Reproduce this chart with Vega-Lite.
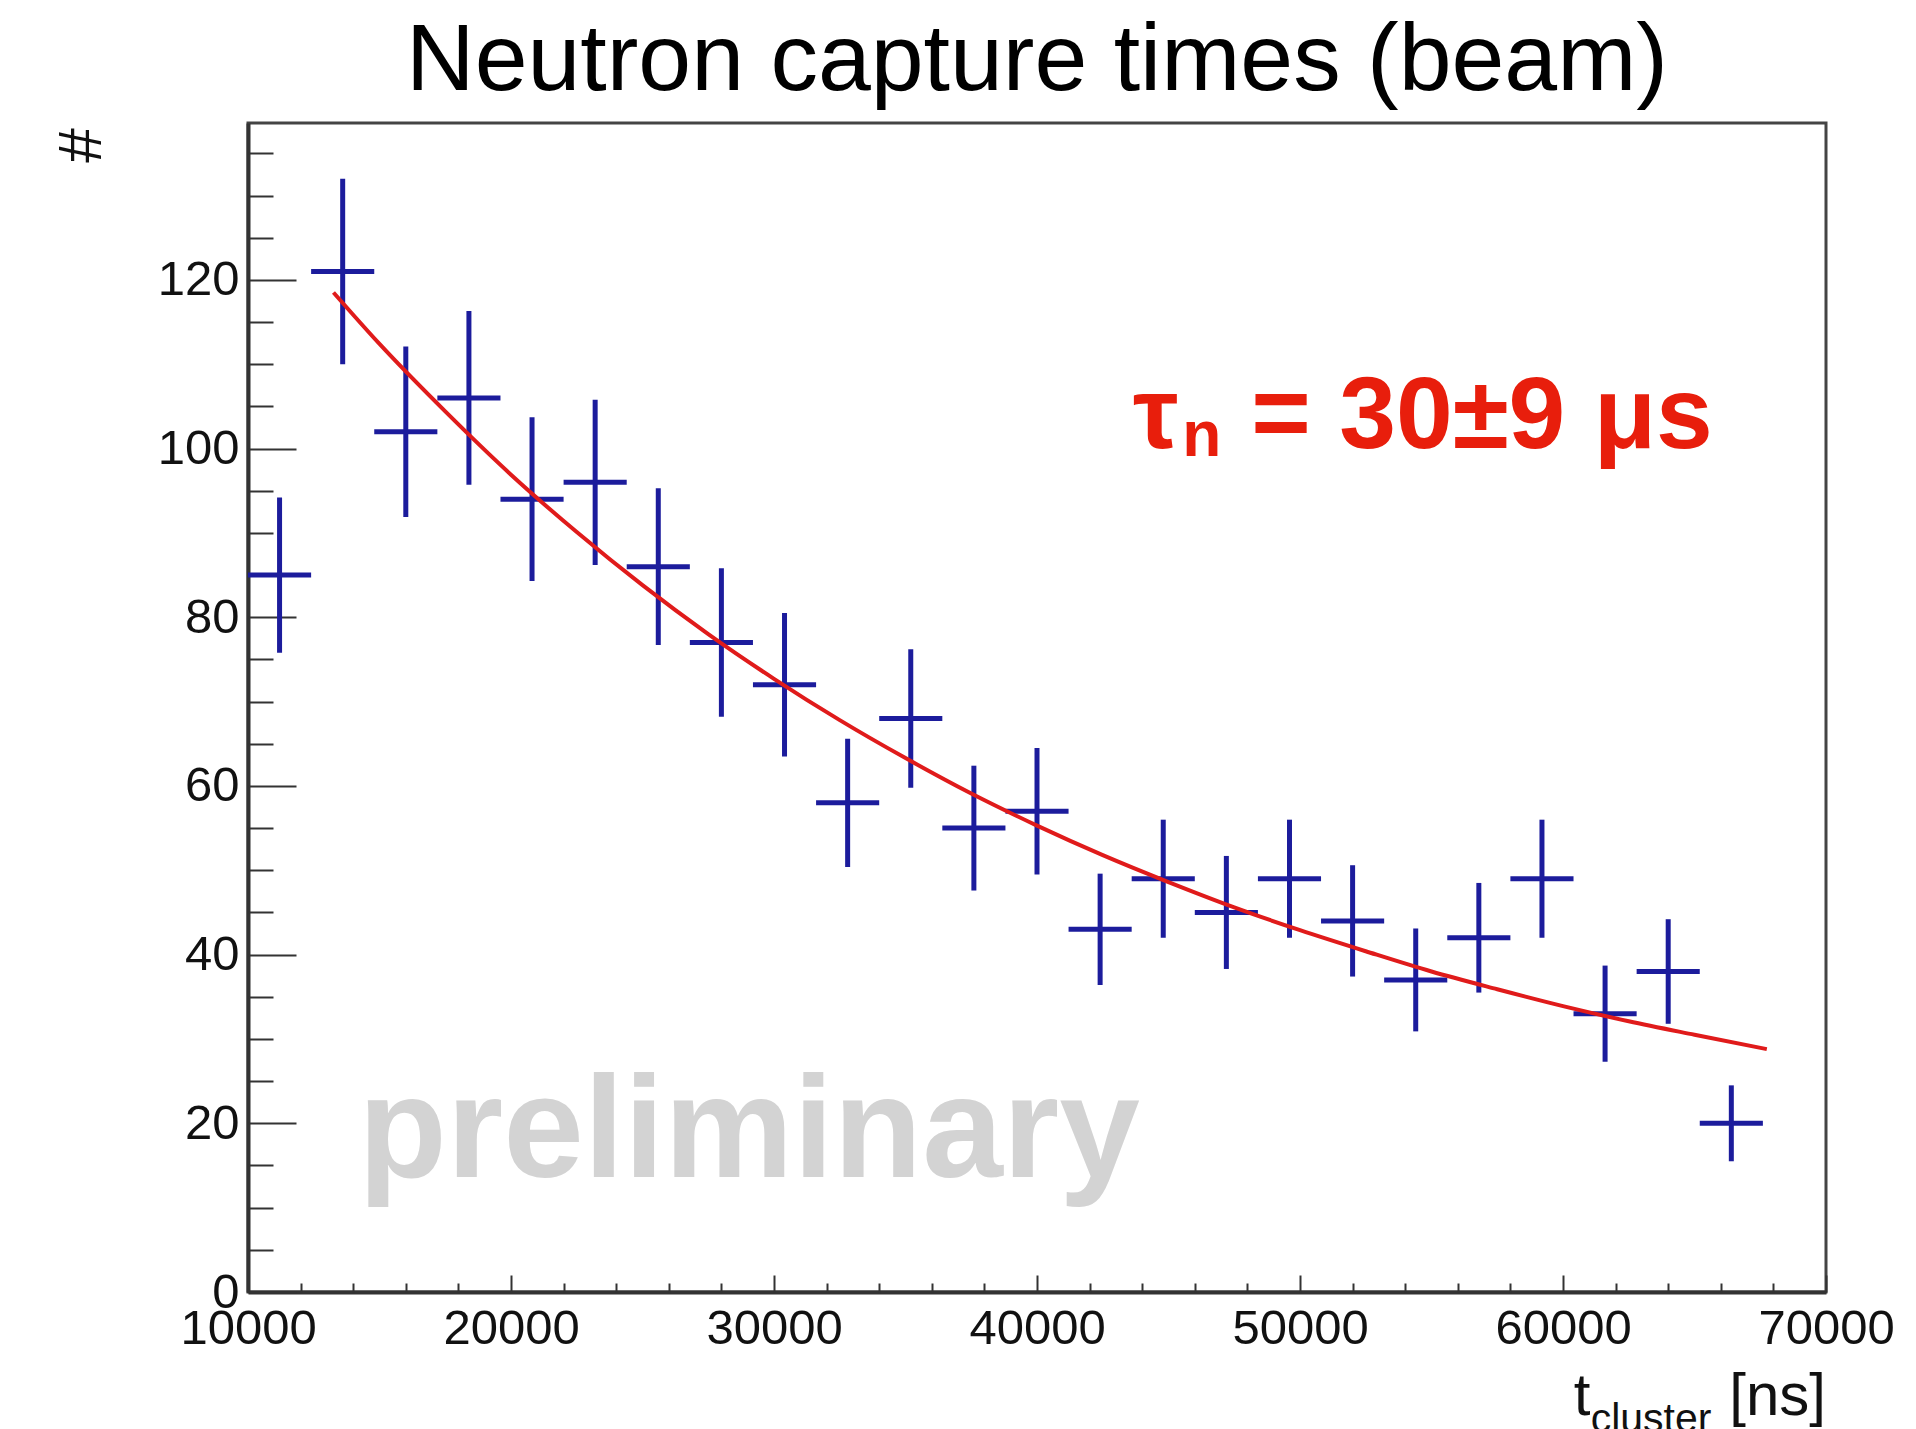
{
  "$schema": "https://vega.github.io/schema/vega-lite/v6.json",
  "width": 1578,
  "height": 1169,
  "autosize": {"type": "none"},
  "padding": {"left": 248, "top": 123, "right": 90, "bottom": 137},
  "background": "white",
  "title": {"text": "Neutron capture times (beam)", "fontSize": 95, "font": "Liberation Sans", "fontWeight": "normal", "color": "black", "anchor": "middle", "baseline": "alphabetic", "offset": 31, "dy": 93},
  "config": {
    "view": {"stroke": "#444", "strokeWidth": 3},
    "axis": {"grid": false, "labelFont": "Liberation Sans", "labelFontSize": 49, "labelColor": "#111", "titleFont": "Liberation Sans"}
  },
  "datasets": {
    "hist": [
      {"t": 11200, "tlo": 10000, "thi": 12400, "n": 85, "nlo": 75.8, "nhi": 94.2},
      {"t": 13600, "tlo": 12400, "thi": 14800, "n": 121, "nlo": 110, "nhi": 132},
      {"t": 16000, "tlo": 14800, "thi": 17200, "n": 102, "nlo": 91.9, "nhi": 112.1},
      {"t": 18400, "tlo": 17200, "thi": 19600, "n": 106, "nlo": 95.7, "nhi": 116.3},
      {"t": 20800, "tlo": 19600, "thi": 22000, "n": 94, "nlo": 84.3, "nhi": 103.7},
      {"t": 23200, "tlo": 22000, "thi": 24400, "n": 96, "nlo": 86.2, "nhi": 105.8},
      {"t": 25600, "tlo": 24400, "thi": 26800, "n": 86, "nlo": 76.7, "nhi": 95.3},
      {"t": 28000, "tlo": 26800, "thi": 29200, "n": 77, "nlo": 68.2, "nhi": 85.8},
      {"t": 30400, "tlo": 29200, "thi": 31600, "n": 72, "nlo": 63.5, "nhi": 80.5},
      {"t": 32800, "tlo": 31600, "thi": 34000, "n": 58, "nlo": 50.4, "nhi": 65.6},
      {"t": 35200, "tlo": 34000, "thi": 36400, "n": 68, "nlo": 59.8, "nhi": 76.2},
      {"t": 37600, "tlo": 36400, "thi": 38800, "n": 55, "nlo": 47.6, "nhi": 62.4},
      {"t": 40000, "tlo": 38800, "thi": 41200, "n": 57, "nlo": 49.5, "nhi": 64.5},
      {"t": 42400, "tlo": 41200, "thi": 43600, "n": 43, "nlo": 36.4, "nhi": 49.6},
      {"t": 44800, "tlo": 43600, "thi": 46000, "n": 49, "nlo": 42, "nhi": 56},
      {"t": 47200, "tlo": 46000, "thi": 48400, "n": 45, "nlo": 38.3, "nhi": 51.7},
      {"t": 49600, "tlo": 48400, "thi": 50800, "n": 49, "nlo": 42, "nhi": 56},
      {"t": 52000, "tlo": 50800, "thi": 53200, "n": 44, "nlo": 37.4, "nhi": 50.6},
      {"t": 54400, "tlo": 53200, "thi": 55600, "n": 37, "nlo": 30.9, "nhi": 43.1},
      {"t": 56800, "tlo": 55600, "thi": 58000, "n": 42, "nlo": 35.5, "nhi": 48.5},
      {"t": 59200, "tlo": 58000, "thi": 60400, "n": 49, "nlo": 42, "nhi": 56},
      {"t": 61600, "tlo": 60400, "thi": 62800, "n": 33, "nlo": 27.3, "nhi": 38.7},
      {"t": 64000, "tlo": 62800, "thi": 65200, "n": 38, "nlo": 31.8, "nhi": 44.2},
      {"t": 66400, "tlo": 65200, "thi": 67600, "n": 20, "nlo": 15.5, "nhi": 24.5}
    ],
    "fit": [
      {"t": 13250, "f": 118.5}, {"t": 15000, "f": 112.4}, {"t": 17500, "f": 104.4},
      {"t": 20000, "f": 96.9}, {"t": 22500, "f": 90.1}, {"t": 25000, "f": 83.8},
      {"t": 27500, "f": 78.0}, {"t": 30000, "f": 72.7}, {"t": 32500, "f": 67.8},
      {"t": 35000, "f": 63.3}, {"t": 37500, "f": 59.1}, {"t": 40000, "f": 55.3},
      {"t": 42500, "f": 51.8}, {"t": 45000, "f": 48.6}, {"t": 47500, "f": 45.6},
      {"t": 50000, "f": 42.9}, {"t": 52500, "f": 40.4}, {"t": 55000, "f": 38.0},
      {"t": 57500, "f": 35.9}, {"t": 60000, "f": 33.9}, {"t": 62500, "f": 32.1},
      {"t": 65000, "f": 30.5}, {"t": 67750, "f": 28.8}
    ]
  },
  "layer": [
    {
      "data": {"values": [{"label": "preliminary"}]},
      "mark": {"type": "text", "font": "Liberation Sans", "fontWeight": "bold", "fontSize": 145, "color": "#d3d3d3", "align": "left", "baseline": "alphabetic"},
      "encoding": {
        "x": {"datum": 14188, "type": "quantitative", "scale": {"domain": [10000, 70000], "nice": false, "zero": false}, "axis": null},
        "y": {"datum": 13.6, "type": "quantitative", "scale": {"domain": [0, 138.6], "nice": false}, "axis": null},
        "text": {"field": "label"}
      }
    },
    {
      "data": {"name": "hist"},
      "mark": {"type": "rule", "color": "#1c1c9c", "strokeWidth": 5},
      "encoding": {
        "x": {"field": "t", "type": "quantitative", "scale": {"domain": [10000, 70000], "nice": false, "zero": false},
          "axis": {"orient": "bottom", "title": null, "values": [10000, 20000, 30000, 40000, 50000, 60000, 70000], "format": "d", "ticks": false, "labelPadding": 12, "domainColor": "#333", "domainWidth": 4, "labelFlush": false, "labelOverlap": false}},
        "y": {"field": "nlo", "type": "quantitative", "scale": {"domain": [0, 138.6], "nice": false},
          "axis": {"orient": "left", "title": "#", "values": [0, 20, 40, 60, 80, 100, 120], "ticks": false, "labelPadding": 9, "domainColor": "#333", "domainWidth": 4, "labelFlush": false, "labelOverlap": false,
            "titleFontSize": 62, "titleFontWeight": "normal", "titleColor": "#111", "titleX": -167, "titleY": 22, "titleAngle": -90, "titleAlign": "center", "titleBaseline": "middle"}},
        "y2": {"field": "nhi"}
      }
    },
    {
      "data": {"name": "hist"},
      "mark": {"type": "rule", "color": "#1c1c9c", "strokeWidth": 5},
      "encoding": {
        "x": {"field": "tlo", "type": "quantitative", "scale": {"domain": [10000, 70000], "nice": false, "zero": false},
          "axis": {"orient": "bottom", "title": null, "values": [10000, 20000, 30000, 40000, 50000, 60000, 70000], "labels": false, "domain": false, "tickSize": -17, "tickColor": "#333", "tickWidth": 2}},
        "x2": {"field": "thi"},
        "y": {"field": "n", "type": "quantitative", "scale": {"domain": [0, 138.6], "nice": false},
          "axis": {"orient": "left", "title": null, "values": [0, 20, 40, 60, 80, 100, 120], "labels": false, "domain": false, "tickSize": -48, "tickColor": "#333", "tickWidth": 2}}
      }
    },
    {
      "data": {"name": "fit"},
      "mark": {"type": "line", "color": "#e01b1b", "strokeWidth": 4, "interpolate": "monotone"},
      "encoding": {
        "x": {"field": "t", "type": "quantitative", "scale": {"domain": [10000, 70000], "nice": false, "zero": false},
          "axis": {"orient": "bottom", "title": null, "values": [12000, 14000, 16000, 18000, 22000, 24000, 26000, 28000, 32000, 34000, 36000, 38000, 42000, 44000, 46000, 48000, 52000, 54000, 56000, 58000, 62000, 64000, 66000, 68000], "labels": false, "domain": false, "tickSize": -9, "tickColor": "#333", "tickWidth": 2}},
        "y": {"field": "f", "type": "quantitative", "scale": {"domain": [0, 138.6], "nice": false},
          "axis": {"orient": "left", "title": null, "values": [5, 10, 15, 25, 30, 35, 45, 50, 55, 65, 70, 75, 85, 90, 95, 105, 110, 115, 125, 130, 135], "labels": false, "domain": false, "tickSize": -25, "tickColor": "#333", "tickWidth": 2}}
      }
    },
    {
      "data": {"values": [{"label": "τ"}]},
      "mark": {"type": "text", "font": "Liberation Sans", "fontWeight": "bold", "fontSize": 102, "color": "#e81e0c", "align": "left", "baseline": "alphabetic"},
      "encoding": {
        "x": {"datum": 43654, "type": "quantitative", "axis": null},
        "y": {"datum": 100.1, "type": "quantitative", "axis": null},
        "text": {"field": "label"}
      }
    },
    {
      "data": {"values": [{"label": "n"}]},
      "mark": {"type": "text", "font": "Liberation Sans", "fontWeight": "bold", "fontSize": 64, "color": "#e81e0c", "align": "left", "baseline": "alphabetic"},
      "encoding": {
        "x": {"datum": 45520, "type": "quantitative", "axis": null},
        "y": {"datum": 99.1, "type": "quantitative", "axis": null},
        "text": {"field": "label"}
      }
    },
    {
      "data": {"values": [{"label": "= 30±9 μs"}]},
      "mark": {"type": "text", "font": "Liberation Sans", "fontWeight": "bold", "fontSize": 102, "color": "#e81e0c", "align": "left", "baseline": "alphabetic"},
      "encoding": {
        "x": {"datum": 48147, "type": "quantitative", "axis": null},
        "y": {"datum": 100.1, "type": "quantitative", "axis": null},
        "text": {"field": "label"}
      }
    },
    {
      "data": {"values": [{"label": "t"}]},
      "mark": {"type": "text", "font": "Liberation Sans", "fontSize": 60, "color": "#111", "align": "left", "baseline": "alphabetic"},
      "encoding": {
        "x": {"datum": 60405, "type": "quantitative", "axis": null},
        "y": {"datum": -14.6, "type": "quantitative", "axis": null},
        "text": {"field": "label"}
      }
    },
    {
      "data": {"values": [{"label": "cluster"}]},
      "mark": {"type": "text", "font": "Liberation Sans", "fontSize": 41, "color": "#111", "align": "left", "baseline": "alphabetic"},
      "encoding": {
        "x": {"datum": 61052, "type": "quantitative", "axis": null},
        "y": {"datum": -16.6, "type": "quantitative", "axis": null},
        "text": {"field": "label"}
      }
    },
    {
      "data": {"values": [{"label": "[ns]"}]},
      "mark": {"type": "text", "font": "Liberation Sans", "fontSize": 60, "color": "#111", "align": "right", "baseline": "alphabetic"},
      "encoding": {
        "x": {"datum": 70000, "type": "quantitative", "axis": null},
        "y": {"datum": -14.6, "type": "quantitative", "axis": null},
        "text": {"field": "label"}
      }
    }
  ],
  "resolve": {"axis": {"x": "independent", "y": "independent"}}
}
